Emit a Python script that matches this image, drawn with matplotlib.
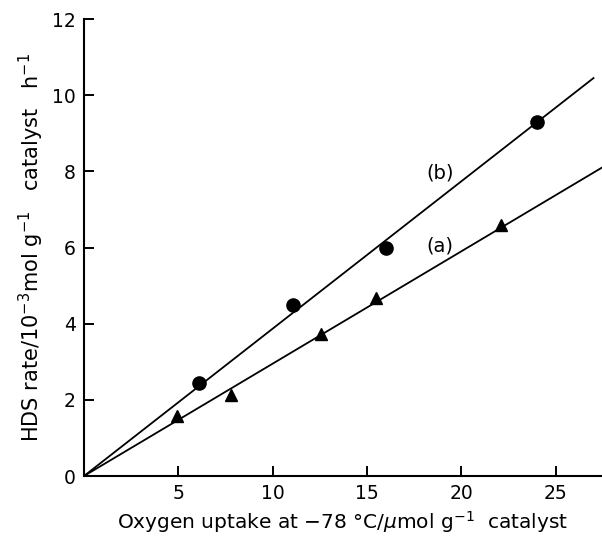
import numpy as np
import matplotlib
matplotlib.use("Agg")
import matplotlib.pyplot as plt

# data
circ_x = [6.1, 11.07, 16.0, 24.0]
circ_y = [2.44, 4.49, 5.99, 9.3]
tri_x = [4.93, 7.8, 12.55, 15.5, 22.1]
tri_y = [1.58, 2.13, 3.73, 4.67, 6.59]

# straight lines through the origin
line_b_x = [0, 27.0]
line_b_y = [0, 10.45]
line_a_x = [0, 27.45]
line_a_y = [0, 8.1]

xticks = [5, 10, 15, 20, 25]
yticks = [0, 2, 4, 6, 8, 10, 12]

plt.rcParams['font.family'] = ['DejaVu Sans']

fig = plt.figure(figsize=(6.02, 5.38), dpi=100)
ax = fig.add_axes([0.1395, 0.1152, 0.8605, 0.8494])

ax.plot(line_b_x, line_b_y, color='black', lw=1.3)
ax.plot(line_a_x, line_a_y, color='black', lw=1.3)
ax.plot(circ_x, circ_y, 'o', color='black', ms=9.5)
ax.plot(tri_x, tri_y, '^', color='black', ms=8.5)

ax.text(18.85, 7.96, '(b)', fontsize=14, ha='center', va='center')
ax.text(18.85, 6.04, '(a)', fontsize=14, ha='center', va='center')

ax.set_xlim(0, 27.45)
ax.set_ylim(0, 12)
ax.set_xticks(xticks)
ax.set_yticks(yticks)
ax.spines['top'].set_visible(False)
ax.spines['right'].set_visible(False)
ax.spines['left'].set_linewidth(1.5)
ax.spines['bottom'].set_linewidth(1.5)
ax.tick_params(direction='in', length=7, width=1.4, labelsize=13.5, pad=6)

ax.set_xlabel(r'Oxygen uptake at $-$78 °C/$\mu$mol g$^{-1}$  catalyst', fontsize=14.5, labelpad=4)
ax.set_ylabel(r'HDS rate/10$^{-3}$mol g$^{-1}$   catalyst   h$^{-1}$', fontsize=15, labelpad=4)

fig.savefig('out.png', dpi=100)
